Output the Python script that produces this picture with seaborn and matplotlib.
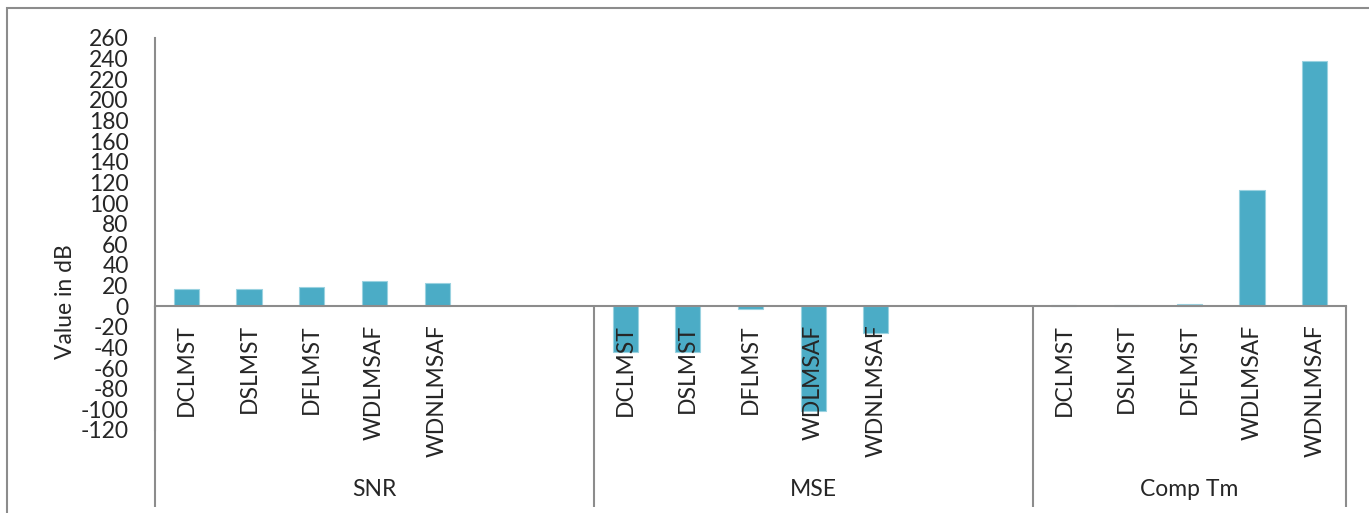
import numpy as np
import pandas as pd
import matplotlib
matplotlib.use("Agg")
import matplotlib.pyplot as plt
import matplotlib.transforms as mtransforms
from matplotlib.patches import Rectangle
import seaborn as sns

# ---- data ----
groups = ["SNR", "MSE", "Comp Tm"]
methods = ["DCLMST", "DSLMST", "DFLMST", "WDLMSAF", "WDNLMSAF"]
snr = [16.2, 16.2, 18.4, 24.3, 22.6]
mse = [-44.6, -44.6, -2.6, -101.5, -25.9]
comp_tm = [0.9, 1.6, 2.5, 112.6, 237.9]
empty_slots = [2, 2, 0]          # blank categories after each group
y_ticks = list(range(-120, 261, 20))
y_label = "Value in dB"

series = {"SNR": snr, "MSE": mse, "Comp Tm": comp_tm}

rows = []
order = []
tick_labels = []
group_spans = []
for g, n_empty in zip(groups, empty_slots):
    start = len(order)
    for m, v in zip(methods, series[g]):
        key = f"{g}|{m}"
        rows.append({"slot": key, "value": v})
        order.append(key)
        tick_labels.append(m)
    for k in range(n_empty):
        order.append(f"{g}|blank{k}")
        tick_labels.append("")
    group_spans.append((start - 0.5, len(order) - 0.5))
df = pd.DataFrame(rows)

# ---- style ----
sns.set_style("white")
plt.rcParams["font.family"] = ["Lato", "DejaVu Sans"]
FS = 16.5
GREY = "#8c8c8c"

fig = plt.figure(figsize=(13.69, 5.13), dpi=100)
W, H = 1369, 513
ax = fig.add_axes([155 / W, 1 - 430 / H, (1346 - 155) / W, (430 - 38) / H])

sns.barplot(data=df, x="slot", y="value", order=order, color="#4BACC6",
            width=0.4, saturation=1, edgecolor="#9AD2E0", linewidth=0.8,
            errorbar=None, ax=ax)
ax.set_axisbelow(False)

for s in ["top", "right"]:
    ax.spines[s].set_visible(False)
ax.spines["bottom"].set_position(("data", 0))
for s in ["left", "bottom"]:
    ax.spines[s].set_color(GREY)
    ax.spines[s].set_linewidth(1.5)

ax.set_xlim(-0.5, len(order) - 0.5)
ax.set_ylim(-120, 260)
ax.set_yticks(y_ticks)
ax.set_yticklabels([str(t) for t in y_ticks], fontsize=FS)
ax.tick_params(axis="y", length=0, pad=19)
ax.set_xticks(range(len(order)))
ax.set_xticklabels(tick_labels, rotation=90, fontsize=FS, va="top", ha="center")
ax.tick_params(axis="x", length=0, pad=13)
ax.set_xlabel("")
ax.set_ylabel("")

# group separators and group labels (multi-level category axis)
trans = mtransforms.blended_transform_factory(ax.transData, ax.transAxes)
y0 = (430 - 306) / 392
y_bot = (430 - 507) / 392
y_lab = (430 - 490) / 392
edges = sorted({e for span in group_spans for e in span})
for e in edges:
    ax.plot([e, e], [y_bot, y0], transform=trans, color=GREY, lw=1.5,
            clip_on=False, solid_capstyle="butt")
for g, (a, b) in zip(groups, group_spans):
    ax.text((a + b) / 2, y_lab, g, transform=trans, ha="center", va="center",
            fontsize=FS)

fig.text(65 / W, 1 - 302 / H, y_label, rotation=90, ha="center", va="center",
         fontsize=FS)

# outer chart border
fig.add_artist(Rectangle((7 / W, -0.05), 1.1, 1 - 8 / H + 0.05,
                         transform=fig.transFigure, fill=False,
                         edgecolor=GREY, lw=1.5, clip_on=False))

fig.savefig("out.png", dpi=100, facecolor="white")
